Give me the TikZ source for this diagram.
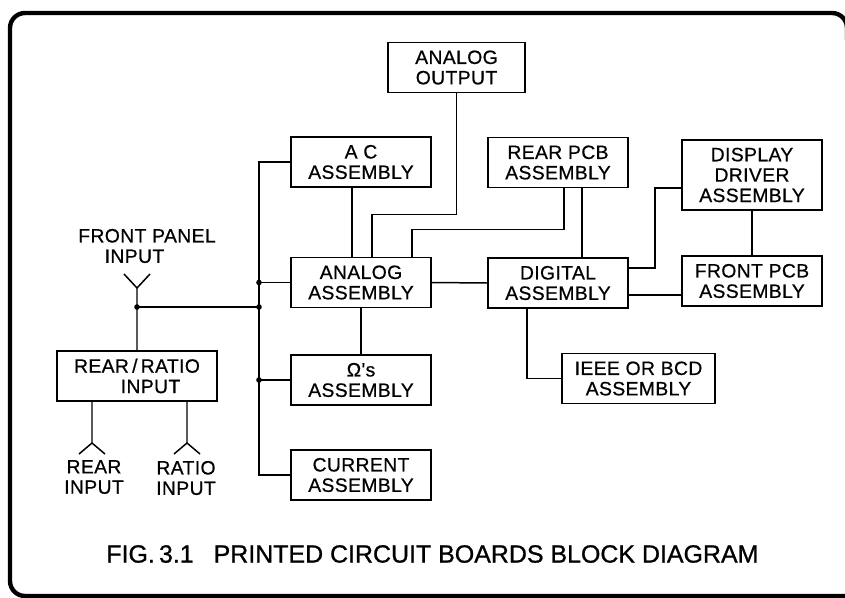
\documentclass[tikz,border=0pt]{standalone}
\usepackage{fontspec}
\setmainfont{Liberation Sans}
\newfontfamily\boxfont{Liberation Sans}[LetterSpace=2.0,FakeBold=0.6]
\newfontfamily\capfont{Liberation Sans}[FakeBold=0.9]
\usetikzlibrary{calc}

\tikzset{
  pcb/.style={draw,line width=1.1pt,minimum width=2.8cm,minimum height=1cm,
    inner sep=0pt,align=center,font=\boxfont\fontsize{11}{11.6}\selectfont},
  wire/.style={line width=0.85pt},
  lbl/.style={inner sep=0pt,align=center,font=\boxfont\fontsize{11}{11.6}\selectfont},
  joint/.style={fill=black}
}

\begin{document}
\begin{tikzpicture}[x=0.02cm,y=-0.02cm]
  \useasboundingbox (0,0) rectangle (845,598);
  % outer frame, its right side runs off the page
  \draw[line width=2.5pt,rounded corners=0.3cm] (847,40) |- (10,13) |- (860,596);

  % boards
  \node[pcb,minimum width=2.74cm] (aout) at (456.5,67.5) {ANALOG\\OUTPUT};
  \node[pcb] (ac) at (361,162) {A C\\ASSEMBLY};
  \node[pcb] (rpcb) at (558,162.5) {REAR PCB\\ASSEMBLY};
  \node[pcb,minimum height=1.4cm] (disp) at (752,175) {DISPLAY\\DRIVER\\ASSEMBLY};
  \node[pcb] (analog) at (361,282.5) {ANALOG\\ASSEMBLY};
  \node[pcb] (digital) at (558,283) {DIGITAL\\ASSEMBLY};
  \node[pcb] (fpcb) at (752,281) {FRONT PCB\\ASSEMBLY};
  \node[pcb] (ohm) at (361,380) {Ω's\\ASSEMBLY};
  \node[pcb,minimum width=3.06cm] (ieee) at (638.5,378.5) {IEEE OR BCD\\ASSEMBLY};
  \node[pcb] (current) at (361,475) {CURRENT\\ASSEMBLY};
  \node[pcb,minimum width=3.2cm] (ratio) at (137,376) {REAR\,/\,RATIO\\\hspace*{1.4em}INPUT};

  % inputs
  \node[lbl] (fplbl) at (147,246) {FRONT PANEL\\INPUT\hspace*{1.3em}};
  \node[lbl] (rearlbl) at (94,477) {REAR\\INPUT};
  \node[lbl] (ratiolbl) at (186,478) {RATIO\\INPUT};
  \coordinate (fpin) at (137,307);
  \coordinate (fptip) at (137,288);
  \coordinate (rearin) at (92,443);
  \coordinate (ratioin) at (187,443);
  \coordinate (bus) at (259,0);

  \draw[wire] (ratio.north) -- (fptip) -- ++(-13,-14) (fptip) -- ++(13,-14);
  \draw[wire] (ratio.south -| rearin) -- (rearin) -- ++(-13,11) (rearin) -- ++(13,11);
  \draw[wire] (ratio.south -| ratioin) -- (ratioin) -- ++(-13,11) (ratioin) -- ++(13,11);

  % bus
  \draw[wire] (ac.west) -| (bus |- current.west) -- (current.west);
  \draw[wire] (analog.west) -- (bus |- analog.west);
  \draw[wire] (ohm.west) -- (bus |- ohm.west);
  \draw[wire] (fpin) -- (bus |- fpin);
  \foreach \p in {fpin,bus |- fpin,bus |- analog.west,bus |- ohm.west}
    \fill[joint] (\p) circle[radius=2.8];

  % links between boards
  \draw[wire] ($(ac.south)+(-9,0)$) -- ($(analog.north)+(-9,0)$);
  \draw[wire] (aout.south) |- ($(analog.north)+(11,-42)$) -- ($(analog.north)+(11,0)$);
  \draw[wire] ($(rpcb.south)+(6,0)$) |- ($(analog.north)+(51,-27)$) -- ($(analog.north)+(51,0)$);
  \draw[wire] ($(rpcb.south)+(24,0)$) -- ($(digital.north)+(24,0)$);
  \draw[wire] (analog.east) -- (digital.west);
  \draw[wire] (analog.south) -- (ohm.north);
  \draw[wire] ($(digital.east)+(0,-15)$) -| ($(disp.west)+(-26,13)$) -- ($(disp.west)+(0,13)$);
  \draw[wire] ($(digital.east)+(0,12)$) coordinate (d2) -- (d2 -| fpcb.west);
  \draw[wire] (disp.south) -- (fpcb.north);
  \draw[wire] ($(digital.south)+(-31,0)$) |- (ieee.west);

  \node[inner sep=0pt,anchor=west,font=\capfont\fontsize{14.2}{16}\selectfont] (cap) at (106,554)
    {FIG.\,3.1\hspace{0.8em}PRINTED CIRCUIT BOARDS BLOCK DIAGRAM};
\end{tikzpicture}
\end{document}
